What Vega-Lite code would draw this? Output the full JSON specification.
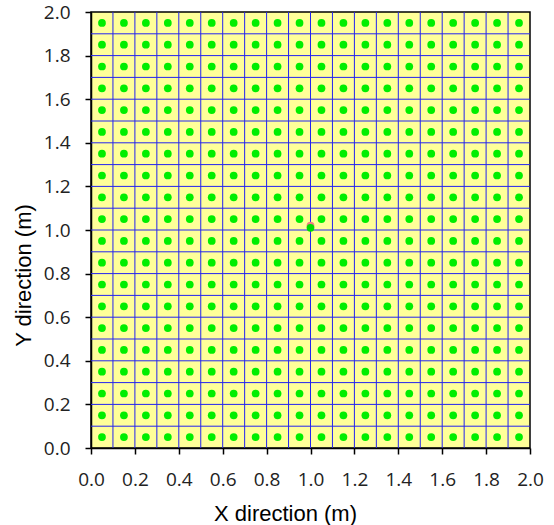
{
  "$schema": "https://vega.github.io/schema/vega-lite/v6.json",
  "width": 439,
  "height": 436,
  "autosize": {"type": "none"},
  "padding": {"left": 91, "top": 12, "right": 24, "bottom": 77},
  "background": "white",
  "config": {
    "view": {"fill": "#FFFF99", "stroke": "black", "strokeWidth": 1.5},
    "axis": {"labelFont": "Open Sans", "titleFont": "Liberation Sans"}
  },
  "datasets": {
    "gridlines": [
      {"v":0.1},{"v":0.2},{"v":0.3},{"v":0.4},{"v":0.5},{"v":0.6},{"v":0.7},{"v":0.8},{"v":0.9},{"v":1.0},
      {"v":1.1},{"v":1.2},{"v":1.3},{"v":1.4},{"v":1.5},{"v":1.6},{"v":1.7},{"v":1.8},{"v":1.9}
    ],
    "dots": [
      {"x":0.05,"y":0.05},{"x":0.15,"y":0.05},{"x":0.25,"y":0.05},{"x":0.35,"y":0.05},{"x":0.45,"y":0.05},{"x":0.55,"y":0.05},{"x":0.65,"y":0.05},{"x":0.75,"y":0.05},{"x":0.85,"y":0.05},{"x":0.95,"y":0.05},{"x":1.05,"y":0.05},{"x":1.15,"y":0.05},{"x":1.25,"y":0.05},{"x":1.35,"y":0.05},{"x":1.45,"y":0.05},{"x":1.55,"y":0.05},{"x":1.65,"y":0.05},{"x":1.75,"y":0.05},{"x":1.85,"y":0.05},{"x":1.95,"y":0.05},
      {"x":0.05,"y":0.15},{"x":0.15,"y":0.15},{"x":0.25,"y":0.15},{"x":0.35,"y":0.15},{"x":0.45,"y":0.15},{"x":0.55,"y":0.15},{"x":0.65,"y":0.15},{"x":0.75,"y":0.15},{"x":0.85,"y":0.15},{"x":0.95,"y":0.15},{"x":1.05,"y":0.15},{"x":1.15,"y":0.15},{"x":1.25,"y":0.15},{"x":1.35,"y":0.15},{"x":1.45,"y":0.15},{"x":1.55,"y":0.15},{"x":1.65,"y":0.15},{"x":1.75,"y":0.15},{"x":1.85,"y":0.15},{"x":1.95,"y":0.15},
      {"x":0.05,"y":0.25},{"x":0.15,"y":0.25},{"x":0.25,"y":0.25},{"x":0.35,"y":0.25},{"x":0.45,"y":0.25},{"x":0.55,"y":0.25},{"x":0.65,"y":0.25},{"x":0.75,"y":0.25},{"x":0.85,"y":0.25},{"x":0.95,"y":0.25},{"x":1.05,"y":0.25},{"x":1.15,"y":0.25},{"x":1.25,"y":0.25},{"x":1.35,"y":0.25},{"x":1.45,"y":0.25},{"x":1.55,"y":0.25},{"x":1.65,"y":0.25},{"x":1.75,"y":0.25},{"x":1.85,"y":0.25},{"x":1.95,"y":0.25},
      {"x":0.05,"y":0.35},{"x":0.15,"y":0.35},{"x":0.25,"y":0.35},{"x":0.35,"y":0.35},{"x":0.45,"y":0.35},{"x":0.55,"y":0.35},{"x":0.65,"y":0.35},{"x":0.75,"y":0.35},{"x":0.85,"y":0.35},{"x":0.95,"y":0.35},{"x":1.05,"y":0.35},{"x":1.15,"y":0.35},{"x":1.25,"y":0.35},{"x":1.35,"y":0.35},{"x":1.45,"y":0.35},{"x":1.55,"y":0.35},{"x":1.65,"y":0.35},{"x":1.75,"y":0.35},{"x":1.85,"y":0.35},{"x":1.95,"y":0.35},
      {"x":0.05,"y":0.45},{"x":0.15,"y":0.45},{"x":0.25,"y":0.45},{"x":0.35,"y":0.45},{"x":0.45,"y":0.45},{"x":0.55,"y":0.45},{"x":0.65,"y":0.45},{"x":0.75,"y":0.45},{"x":0.85,"y":0.45},{"x":0.95,"y":0.45},{"x":1.05,"y":0.45},{"x":1.15,"y":0.45},{"x":1.25,"y":0.45},{"x":1.35,"y":0.45},{"x":1.45,"y":0.45},{"x":1.55,"y":0.45},{"x":1.65,"y":0.45},{"x":1.75,"y":0.45},{"x":1.85,"y":0.45},{"x":1.95,"y":0.45},
      {"x":0.05,"y":0.55},{"x":0.15,"y":0.55},{"x":0.25,"y":0.55},{"x":0.35,"y":0.55},{"x":0.45,"y":0.55},{"x":0.55,"y":0.55},{"x":0.65,"y":0.55},{"x":0.75,"y":0.55},{"x":0.85,"y":0.55},{"x":0.95,"y":0.55},{"x":1.05,"y":0.55},{"x":1.15,"y":0.55},{"x":1.25,"y":0.55},{"x":1.35,"y":0.55},{"x":1.45,"y":0.55},{"x":1.55,"y":0.55},{"x":1.65,"y":0.55},{"x":1.75,"y":0.55},{"x":1.85,"y":0.55},{"x":1.95,"y":0.55},
      {"x":0.05,"y":0.65},{"x":0.15,"y":0.65},{"x":0.25,"y":0.65},{"x":0.35,"y":0.65},{"x":0.45,"y":0.65},{"x":0.55,"y":0.65},{"x":0.65,"y":0.65},{"x":0.75,"y":0.65},{"x":0.85,"y":0.65},{"x":0.95,"y":0.65},{"x":1.05,"y":0.65},{"x":1.15,"y":0.65},{"x":1.25,"y":0.65},{"x":1.35,"y":0.65},{"x":1.45,"y":0.65},{"x":1.55,"y":0.65},{"x":1.65,"y":0.65},{"x":1.75,"y":0.65},{"x":1.85,"y":0.65},{"x":1.95,"y":0.65},
      {"x":0.05,"y":0.75},{"x":0.15,"y":0.75},{"x":0.25,"y":0.75},{"x":0.35,"y":0.75},{"x":0.45,"y":0.75},{"x":0.55,"y":0.75},{"x":0.65,"y":0.75},{"x":0.75,"y":0.75},{"x":0.85,"y":0.75},{"x":0.95,"y":0.75},{"x":1.05,"y":0.75},{"x":1.15,"y":0.75},{"x":1.25,"y":0.75},{"x":1.35,"y":0.75},{"x":1.45,"y":0.75},{"x":1.55,"y":0.75},{"x":1.65,"y":0.75},{"x":1.75,"y":0.75},{"x":1.85,"y":0.75},{"x":1.95,"y":0.75},
      {"x":0.05,"y":0.85},{"x":0.15,"y":0.85},{"x":0.25,"y":0.85},{"x":0.35,"y":0.85},{"x":0.45,"y":0.85},{"x":0.55,"y":0.85},{"x":0.65,"y":0.85},{"x":0.75,"y":0.85},{"x":0.85,"y":0.85},{"x":0.95,"y":0.85},{"x":1.05,"y":0.85},{"x":1.15,"y":0.85},{"x":1.25,"y":0.85},{"x":1.35,"y":0.85},{"x":1.45,"y":0.85},{"x":1.55,"y":0.85},{"x":1.65,"y":0.85},{"x":1.75,"y":0.85},{"x":1.85,"y":0.85},{"x":1.95,"y":0.85},
      {"x":0.05,"y":0.95},{"x":0.15,"y":0.95},{"x":0.25,"y":0.95},{"x":0.35,"y":0.95},{"x":0.45,"y":0.95},{"x":0.55,"y":0.95},{"x":0.65,"y":0.95},{"x":0.75,"y":0.95},{"x":0.85,"y":0.95},{"x":0.95,"y":0.95},{"x":1.05,"y":0.95},{"x":1.15,"y":0.95},{"x":1.25,"y":0.95},{"x":1.35,"y":0.95},{"x":1.45,"y":0.95},{"x":1.55,"y":0.95},{"x":1.65,"y":0.95},{"x":1.75,"y":0.95},{"x":1.85,"y":0.95},{"x":1.95,"y":0.95},
      {"x":0.05,"y":1.05},{"x":0.15,"y":1.05},{"x":0.25,"y":1.05},{"x":0.35,"y":1.05},{"x":0.45,"y":1.05},{"x":0.55,"y":1.05},{"x":0.65,"y":1.05},{"x":0.75,"y":1.05},{"x":0.85,"y":1.05},{"x":0.95,"y":1.05},{"x":1.05,"y":1.05},{"x":1.15,"y":1.05},{"x":1.25,"y":1.05},{"x":1.35,"y":1.05},{"x":1.45,"y":1.05},{"x":1.55,"y":1.05},{"x":1.65,"y":1.05},{"x":1.75,"y":1.05},{"x":1.85,"y":1.05},{"x":1.95,"y":1.05},
      {"x":0.05,"y":1.15},{"x":0.15,"y":1.15},{"x":0.25,"y":1.15},{"x":0.35,"y":1.15},{"x":0.45,"y":1.15},{"x":0.55,"y":1.15},{"x":0.65,"y":1.15},{"x":0.75,"y":1.15},{"x":0.85,"y":1.15},{"x":0.95,"y":1.15},{"x":1.05,"y":1.15},{"x":1.15,"y":1.15},{"x":1.25,"y":1.15},{"x":1.35,"y":1.15},{"x":1.45,"y":1.15},{"x":1.55,"y":1.15},{"x":1.65,"y":1.15},{"x":1.75,"y":1.15},{"x":1.85,"y":1.15},{"x":1.95,"y":1.15},
      {"x":0.05,"y":1.25},{"x":0.15,"y":1.25},{"x":0.25,"y":1.25},{"x":0.35,"y":1.25},{"x":0.45,"y":1.25},{"x":0.55,"y":1.25},{"x":0.65,"y":1.25},{"x":0.75,"y":1.25},{"x":0.85,"y":1.25},{"x":0.95,"y":1.25},{"x":1.05,"y":1.25},{"x":1.15,"y":1.25},{"x":1.25,"y":1.25},{"x":1.35,"y":1.25},{"x":1.45,"y":1.25},{"x":1.55,"y":1.25},{"x":1.65,"y":1.25},{"x":1.75,"y":1.25},{"x":1.85,"y":1.25},{"x":1.95,"y":1.25},
      {"x":0.05,"y":1.35},{"x":0.15,"y":1.35},{"x":0.25,"y":1.35},{"x":0.35,"y":1.35},{"x":0.45,"y":1.35},{"x":0.55,"y":1.35},{"x":0.65,"y":1.35},{"x":0.75,"y":1.35},{"x":0.85,"y":1.35},{"x":0.95,"y":1.35},{"x":1.05,"y":1.35},{"x":1.15,"y":1.35},{"x":1.25,"y":1.35},{"x":1.35,"y":1.35},{"x":1.45,"y":1.35},{"x":1.55,"y":1.35},{"x":1.65,"y":1.35},{"x":1.75,"y":1.35},{"x":1.85,"y":1.35},{"x":1.95,"y":1.35},
      {"x":0.05,"y":1.45},{"x":0.15,"y":1.45},{"x":0.25,"y":1.45},{"x":0.35,"y":1.45},{"x":0.45,"y":1.45},{"x":0.55,"y":1.45},{"x":0.65,"y":1.45},{"x":0.75,"y":1.45},{"x":0.85,"y":1.45},{"x":0.95,"y":1.45},{"x":1.05,"y":1.45},{"x":1.15,"y":1.45},{"x":1.25,"y":1.45},{"x":1.35,"y":1.45},{"x":1.45,"y":1.45},{"x":1.55,"y":1.45},{"x":1.65,"y":1.45},{"x":1.75,"y":1.45},{"x":1.85,"y":1.45},{"x":1.95,"y":1.45},
      {"x":0.05,"y":1.55},{"x":0.15,"y":1.55},{"x":0.25,"y":1.55},{"x":0.35,"y":1.55},{"x":0.45,"y":1.55},{"x":0.55,"y":1.55},{"x":0.65,"y":1.55},{"x":0.75,"y":1.55},{"x":0.85,"y":1.55},{"x":0.95,"y":1.55},{"x":1.05,"y":1.55},{"x":1.15,"y":1.55},{"x":1.25,"y":1.55},{"x":1.35,"y":1.55},{"x":1.45,"y":1.55},{"x":1.55,"y":1.55},{"x":1.65,"y":1.55},{"x":1.75,"y":1.55},{"x":1.85,"y":1.55},{"x":1.95,"y":1.55},
      {"x":0.05,"y":1.65},{"x":0.15,"y":1.65},{"x":0.25,"y":1.65},{"x":0.35,"y":1.65},{"x":0.45,"y":1.65},{"x":0.55,"y":1.65},{"x":0.65,"y":1.65},{"x":0.75,"y":1.65},{"x":0.85,"y":1.65},{"x":0.95,"y":1.65},{"x":1.05,"y":1.65},{"x":1.15,"y":1.65},{"x":1.25,"y":1.65},{"x":1.35,"y":1.65},{"x":1.45,"y":1.65},{"x":1.55,"y":1.65},{"x":1.65,"y":1.65},{"x":1.75,"y":1.65},{"x":1.85,"y":1.65},{"x":1.95,"y":1.65},
      {"x":0.05,"y":1.75},{"x":0.15,"y":1.75},{"x":0.25,"y":1.75},{"x":0.35,"y":1.75},{"x":0.45,"y":1.75},{"x":0.55,"y":1.75},{"x":0.65,"y":1.75},{"x":0.75,"y":1.75},{"x":0.85,"y":1.75},{"x":0.95,"y":1.75},{"x":1.05,"y":1.75},{"x":1.15,"y":1.75},{"x":1.25,"y":1.75},{"x":1.35,"y":1.75},{"x":1.45,"y":1.75},{"x":1.55,"y":1.75},{"x":1.65,"y":1.75},{"x":1.75,"y":1.75},{"x":1.85,"y":1.75},{"x":1.95,"y":1.75},
      {"x":0.05,"y":1.85},{"x":0.15,"y":1.85},{"x":0.25,"y":1.85},{"x":0.35,"y":1.85},{"x":0.45,"y":1.85},{"x":0.55,"y":1.85},{"x":0.65,"y":1.85},{"x":0.75,"y":1.85},{"x":0.85,"y":1.85},{"x":0.95,"y":1.85},{"x":1.05,"y":1.85},{"x":1.15,"y":1.85},{"x":1.25,"y":1.85},{"x":1.35,"y":1.85},{"x":1.45,"y":1.85},{"x":1.55,"y":1.85},{"x":1.65,"y":1.85},{"x":1.75,"y":1.85},{"x":1.85,"y":1.85},{"x":1.95,"y":1.85},
      {"x":0.05,"y":1.95},{"x":0.15,"y":1.95},{"x":0.25,"y":1.95},{"x":0.35,"y":1.95},{"x":0.45,"y":1.95},{"x":0.55,"y":1.95},{"x":0.65,"y":1.95},{"x":0.75,"y":1.95},{"x":0.85,"y":1.95},{"x":0.95,"y":1.95},{"x":1.05,"y":1.95},{"x":1.15,"y":1.95},{"x":1.25,"y":1.95},{"x":1.35,"y":1.95},{"x":1.45,"y":1.95},{"x":1.55,"y":1.95},{"x":1.65,"y":1.95},{"x":1.75,"y":1.95},{"x":1.85,"y":1.95},{"x":1.95,"y":1.95}
    ],
    "centre": [
      {"x": 1.0, "y": 1.02, "kind": "source"},
      {"x": 1.0, "y": 1.01, "kind": "receiver"}
    ]
  },
  "layer": [
    {
      "data": {"name": "gridlines"},
      "mark": {"type": "rule", "color": "#2424F0", "strokeWidth": 1},
      "encoding": {
        "x": {
          "field": "v", "type": "quantitative",
          "scale": {"domain": [0, 2], "nice": false, "zero": false},
          "axis": {
            "title": "X direction (m)",
            "values": [0,0.2,0.4,0.6,0.8,1.0,1.2,1.4,1.6,1.8,2.0],
            "format": ".1f",
            "grid": false,
            "domainColor": "black", "domainWidth": 1.5,
            "tickColor": "black", "tickWidth": 1.5, "tickSize": 6,
            "labelFontSize": 19, "labelColor": "#222", "labelPadding": 16, "labelFlush": false,
            "titleFontSize": 22, "titleFontWeight": "normal", "titleColor": "black",
            "titleX": 194, "titleY": 65, "titleAlign": "center", "titleBaseline": "middle", "titleAnchor": null
          }
        }
      }
    },
    {
      "data": {"name": "gridlines"},
      "mark": {"type": "rule", "color": "#2424F0", "strokeWidth": 1},
      "encoding": {
        "y": {
          "field": "v", "type": "quantitative",
          "scale": {"domain": [0, 2], "nice": false, "zero": false},
          "axis": {
            "title": "Y direction (m)",
            "values": [0,0.2,0.4,0.6,0.8,1.0,1.2,1.4,1.6,1.8,2.0],
            "format": ".1f",
            "grid": false,
            "domainColor": "black", "domainWidth": 1.5,
            "tickColor": "black", "tickWidth": 1.5, "tickSize": 6,
            "labelFontSize": 19, "labelColor": "#222", "labelPadding": 15, "labelFlush": false,
            "titleFontSize": 22, "titleFontWeight": "normal", "titleColor": "black",
            "titleX": -68, "titleY": 263, "titleAngle": -90, "titleAlign": "center", "titleBaseline": "middle", "titleAnchor": null
          }
        }
      }
    },
    {
      "data": {"name": "dots"},
      "mark": {"type": "point", "filled": true, "shape": "circle", "size": 60, "color": "#00EE00", "opacity": 1},
      "encoding": {
        "x": {"field": "x", "type": "quantitative"},
        "y": {"field": "y", "type": "quantitative"}
      }
    },
    {
      "data": {"name": "centre"},
      "mark": {"type": "point", "filled": true, "shape": "circle", "size": 60, "opacity": 1},
      "encoding": {
        "x": {"field": "x", "type": "quantitative"},
        "y": {"field": "y", "type": "quantitative"},
        "color": {
          "field": "kind", "type": "nominal",
          "scale": {"domain": ["source", "receiver"], "range": ["#F08080", "#00DD00"]},
          "legend": null
        },
        "order": {"field": "kind", "sort": "descending"}
      }
    }
  ]
}
